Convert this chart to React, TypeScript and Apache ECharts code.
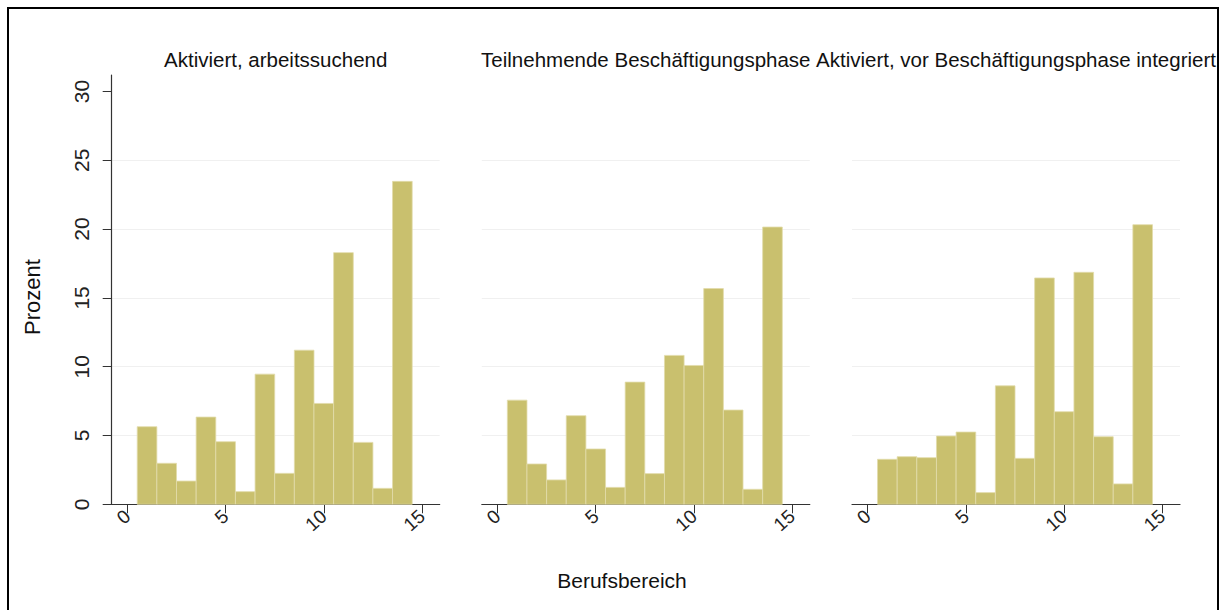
import React, { useEffect, useRef } from "react";
import * as echarts from "echarts";

const bins = [1, 2, 3, 4, 5, 6, 7, 8, 9, 10, 11, 12, 13, 14];
const panelTitles = [
  "Aktiviert, arbeitssuchend",
  "Teilnehmende Beschäftigungsphase",
  "Aktiviert, vor Beschäftigungsphase integriert",
];
const aktiviert = [5.64, 2.98, 1.69, 6.34, 4.55, 0.92, 9.46, 2.25, 11.2, 7.33, 18.29, 4.5, 1.16, 23.47];
const teilnehmende = [7.57, 2.93, 1.77, 6.44, 4.02, 1.23, 8.88, 2.23, 10.82, 10.09, 15.68, 6.85, 1.09, 20.15];
const integriert = [3.27, 3.46, 3.39, 4.96, 5.25, 0.85, 8.61, 3.34, 16.45, 6.73, 16.86, 4.91, 1.48, 20.32];
const xTicks = [0, 5, 10, 15];
const yTicks = [0, 5, 10, 15, 20, 25, 30];
const xTitle = "Berufsbereich";
const yTitle = "Prozent";

const FONT = "'Liberation Sans', Arial, sans-serif";
const BAR = "#c9c06e";
const AXIS = "#333333";

export default function App() {
  const ref = useRef<HTMLDivElement>(null);
  useEffect(() => {
    if (!ref.current) return;
    const chart = echarts.init(ref.current, undefined, { renderer: "svg" });
    const panels = [aktiviert, teilnehmende, integriert];
    const lefts = [111.7, 481.8, 852];
    const gw = 328;
    const grids = lefts.map((l) => ({ left: l, width: gw, top: 75, bottom: 105.7, containLabel: false }));
    const xAxes = panels.map((_, i) => ({
      type: "value",
      gridIndex: i,
      min: -0.8,
      max: 15.9,
      axisLine: { show: true, onZero: false, lineStyle: { color: AXIS, width: 1.2 } },
      axisTick: { show: true, customValues: xTicks, length: 9, lineStyle: { color: AXIS } },
      axisLabel: {
        customValues: xTicks,
        rotate: 42,
        fontSize: 19,
        fontFamily: FONT,
        color: "#222",
        margin: 9,
      },
      splitLine: { show: false },
    }));
    const yAxes = panels.map((_, i) => ({
      type: "value",
      gridIndex: i,
      min: 0,
      max: 31.2,
      interval: 5,
      axisLine: { show: i === 0, onZero: false, lineStyle: { color: AXIS, width: 1.2 } },
      axisTick: { show: i === 0, customValues: yTicks, length: 9, lineStyle: { color: AXIS } },
      axisLabel: {
        show: i === 0,
        customValues: yTicks,
        rotate: 90,
        fontSize: 21,
        fontFamily: FONT,
        color: "#222",
        margin: 20,
      },
      splitLine: { show: true, showMaxLine: false, showMinLine: false, lineStyle: { color: "#f0f0f0", width: 1 } },
    }));
    const series = panels.map((vals, i) => ({
      type: "custom",
      xAxisIndex: i,
      yAxisIndex: i,
      data: bins.map((b, k) => [b, vals[k]]),
      encode: { x: 0, y: 1 },
      renderItem: (params: any, api: any) => {
        const x = api.value(0);
        const v = api.value(1);
        const p1 = api.coord([x - 0.5, v]);
        const p2 = api.coord([x + 0.5, 0]);
        return {
          type: "rect",
          shape: { x: p1[0], y: p1[1], width: p2[0] - p1[0], height: p2[1] - p1[1] },
          style: { fill: BAR, stroke: "#e2dcab", lineWidth: 0.8 },
        };
      },
    }));
    const graphic: any[] = panelTitles.map((t, i) => ({
      type: "text",
      x: lefts[i] + gw / 2,
      y: 59.5,
      style: { text: t, fontSize: 20.5, fontFamily: FONT, fill: "#111", align: "center", verticalAlign: "middle" },
    }));
    graphic.push({
      type: "text",
      x: 622,
      y: 580,
      style: { text: xTitle, fontSize: 21, fontFamily: FONT, fill: "#111", align: "center", verticalAlign: "middle" },
    });
    graphic.push({
      type: "text",
      x: 32,
      y: 297,
      rotation: Math.PI / 2,
      style: { text: yTitle, fontSize: 22, fontFamily: FONT, fill: "#111", align: "center", verticalAlign: "middle" },
    });
    chart.setOption({
      animation: false,
      backgroundColor: "#ffffff",
      grid: grids,
      xAxis: xAxes,
      yAxis: yAxes,
      series,
      graphic,
    });
    return () => chart.dispose();
  }, []);
  return (
    <div
      style={{
        position: "fixed",
        left: 7,
        top: 7,
        width: 1212,
        height: 630,
        boxSizing: "border-box",
        borderTop: "2px solid #000",
        borderLeft: "2px solid #000",
        borderRight: "2px solid #000",
        overflow: "hidden",
        background: "#fff",
      }}
    >
      <div ref={ref} style={{ position: "absolute", left: -9, top: -9, width: 1223, height: 610 }} />
    </div>
  );
}
